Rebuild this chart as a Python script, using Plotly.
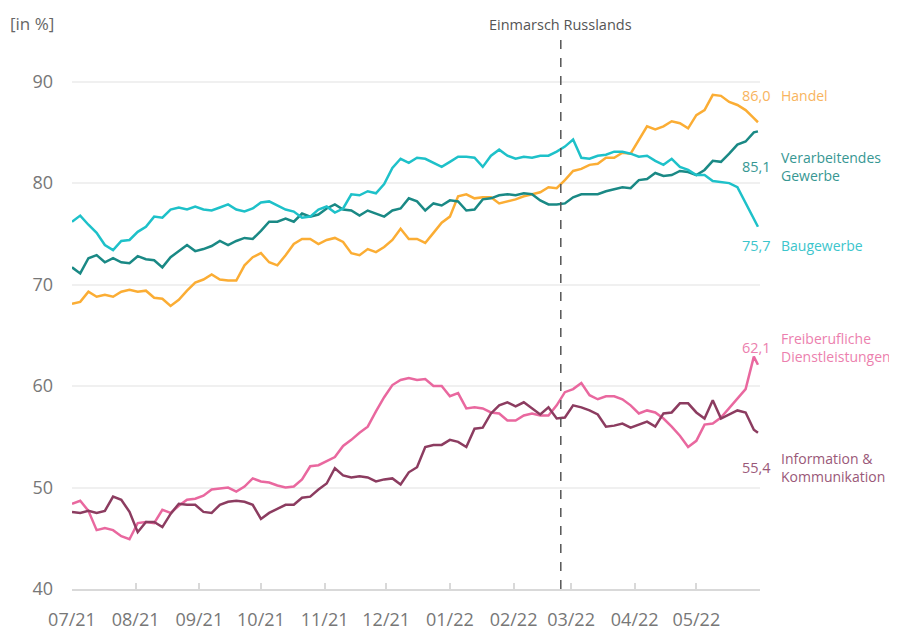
import pandas as pd
import plotly.graph_objects as go

# ---- data (one value every 4 days + final day) ----
dates = list(pd.date_range("2021-07-01", periods=84, freq="4D")) + [pd.Timestamp("2022-05-31")]

handel = [68.1, 68.3, 69.3, 68.8, 69.0, 68.8, 69.3, 69.5, 69.3, 69.4,
          68.7, 68.6, 67.9, 68.5, 69.4, 70.2, 70.5, 71.0, 70.5, 70.4,
          70.4, 71.9, 72.7, 73.1, 72.2, 71.9, 72.9, 74.0, 74.5, 74.5,
          74.0, 74.4, 74.6, 74.2, 73.1, 72.9, 73.5, 73.2, 73.7, 74.4,
          75.5, 74.5, 74.5, 74.1, 75.1, 76.1, 76.7, 78.7, 78.9, 78.5,
          78.6, 78.6, 78.0, 78.2, 78.4, 78.7, 78.9, 79.1, 79.6, 79.5,
          80.3, 81.2, 81.4, 81.8, 81.9, 82.5, 82.5, 83.0, 82.9, 84.3,
          85.6, 85.3, 85.6, 86.1, 85.9, 85.4, 86.7, 87.2, 88.7, 88.6,
          88.0, 87.7, 87.2, 86.4, 86.0]

verarbeitend = [71.7, 71.1, 72.6, 72.9, 72.2, 72.6, 72.2, 72.1, 72.8, 72.5,
                72.4, 71.7, 72.7, 73.3, 73.9, 73.3, 73.5, 73.8, 74.3, 73.9,
                74.3, 74.6, 74.5, 75.3, 76.2, 76.2, 76.5, 76.2, 77.0, 76.7,
                76.9, 77.5, 77.9, 77.4, 77.3, 76.8, 77.3, 77.0, 76.7, 77.3,
                77.5, 78.5, 78.2, 77.3, 78.0, 77.8, 78.3, 78.2, 77.3, 77.4,
                78.4, 78.5, 78.8, 78.9, 78.8, 79.0, 78.9, 78.3, 77.9, 77.9,
                78.0, 78.6, 78.9, 78.9, 78.9, 79.2, 79.4, 79.6, 79.5, 80.3,
                80.4, 81.0, 80.7, 80.8, 81.2, 81.1, 80.8, 81.3, 82.2, 82.1,
                82.9, 83.8, 84.1, 85.0, 85.1]

bau = [76.2, 76.8, 75.9, 75.1, 73.9, 73.4, 74.3, 74.4, 75.2, 75.7,
       76.7, 76.6, 77.4, 77.6, 77.4, 77.7, 77.4, 77.3, 77.6, 77.9,
       77.4, 77.2, 77.5, 78.1, 78.2, 77.8, 77.4, 77.2, 76.6, 76.7,
       77.4, 77.7, 77.1, 77.5, 78.9, 78.8, 79.2, 79.0, 79.9, 81.5,
       82.4, 82.0, 82.5, 82.4, 82.0, 81.6, 82.1, 82.6, 82.6, 82.5,
       81.6, 82.7, 83.3, 82.7, 82.4, 82.6, 82.5, 82.7, 82.7, 83.1,
       83.6, 84.3, 82.5, 82.4, 82.7, 82.8, 83.1, 83.1, 82.9, 82.6,
       82.7, 82.2, 81.8, 82.4, 81.6, 81.3, 80.8, 80.8, 80.2, 80.1,
       80.0, 79.6, 78.1, 76.6, 75.7]

freiberuf = [48.4, 48.7, 47.7, 45.8, 46.0, 45.8, 45.2, 44.9, 46.5, 46.6,
             46.5, 47.8, 47.5, 48.2, 48.8, 48.9, 49.2, 49.8, 49.9, 50.0,
             49.6, 50.1, 50.9, 50.6, 50.5, 50.2, 50.0, 50.1, 50.8, 52.1,
             52.2, 52.6, 53.0, 54.1, 54.7, 55.4, 56.0, 57.5, 58.9, 60.1,
             60.6, 60.8, 60.6, 60.7, 60.0, 60.0, 59.0, 59.3, 57.8, 57.9,
             57.8, 57.4, 57.3, 56.6, 56.6, 57.1, 57.3, 57.1, 57.1, 58.1,
             59.4, 59.7, 60.3, 59.1, 58.7, 59.0, 59.0, 58.7, 58.1, 57.3,
             57.6, 57.4, 56.8, 56.0, 55.1, 54.0, 54.6, 56.2, 56.3, 56.9,
             57.8, 58.7, 59.7, 62.9, 62.1]

info = [47.6, 47.5, 47.7, 47.5, 47.7, 49.1, 48.8, 47.6, 45.6, 46.6,
        46.6, 46.1, 47.4, 48.4, 48.3, 48.3, 47.6, 47.5, 48.3, 48.6,
        48.7, 48.6, 48.3, 46.9, 47.5, 47.9, 48.3, 48.3, 49.0, 49.1,
        49.8, 50.4, 51.9, 51.2, 51.0, 51.1, 51.0, 50.6, 50.8, 50.9,
        50.3, 51.5, 52.0, 54.0, 54.2, 54.2, 54.7, 54.5, 54.0, 55.8,
        55.9, 57.3, 58.1, 58.4, 58.0, 58.4, 57.8, 57.2, 57.9, 56.8,
        56.9, 58.1, 57.9, 57.6, 57.2, 56.0, 56.1, 56.3, 55.9, 56.2,
        56.5, 56.0, 57.3, 57.4, 58.3, 58.3, 57.4, 56.8, 58.6, 56.8,
        57.2, 57.6, 57.4, 55.7, 55.4]

month_ticks = pd.date_range("2021-07-01", "2022-06-01", freq="MS")
month_labels = ["07/21", "08/21", "09/21", "10/21", "11/21", "12/21",
                "01/22", "02/22", "03/22", "04/22", "05/22", ""]

invasion_date = "2022-02-24"
invasion_label = "Einmarsch Russlands"

series = [
    ("Handel", handel, "#FBAD34", "#F8B45E", "86,0", ["Handel"], 88.6),
    ("Verarbeitendes Gewerbe", verarbeitend, "#1A8985", "#379793", "85,1", ["Verarbeitendes", "Gewerbe"], 81.6),
    ("Baugewerbe", bau, "#1EC1C9", "#3CC5CC", "75,7", ["Baugewerbe"], 73.9),
    ("Freiberufliche Dienstleistungen", freiberuf, "#E9689F", "#EC7FAE", "62,1", ["Freiberufliche", "Dienstleistungen"], 63.8),
    ("Information & Kommunikation", info, "#8C3C60", "#9A5878", "55,4", ["Information &", "Kommunikation"], 52.0),
]

FONT = "Open Sans"
fig = go.Figure()
for name, vals, col, tcol, last, lines, ly in series:
    fig.add_trace(go.Scatter(x=dates, y=vals, mode="lines", name=name,
                             line=dict(color=col, width=2.5), hoverinfo="skip"))
    fig.add_annotation(x=1.0185, xref="paper", y=ly, yref="y", text=last,
                       showarrow=False, xanchor="right", yanchor="middle",
                       font=dict(family=FONT, size=14.5, color=tcol))
    fig.add_annotation(x=1.0275, xref="paper", y=ly, yref="y", text="<br>".join(lines),
                       showarrow=False, xanchor="left", yanchor="middle", align="left",
                       font=dict(family=FONT, size=14, color=tcol))

fig.add_shape(type="line", x0=invasion_date, x1=invasion_date, xref="x",
              y0=0, y1=1, yref="paper", line=dict(color="#555555", width=1.5, dash="dash"))
fig.add_annotation(x=invasion_date, xref="x", y=1, yref="paper", yshift=0,
                   text=invasion_label, showarrow=False, xanchor="center", yanchor="bottom",
                   font=dict(family=FONT, size=14.5, color="#555555"))
fig.add_annotation(x=-0.093, xref="paper", y=1, yref="paper", yshift=-1,
                   text="[in %]", showarrow=False, xanchor="left", yanchor="bottom",
                   font=dict(family=FONT, size=17, color="#666666"))

fig.update_layout(
    width=889, height=622,
    margin=dict(l=64, r=137, t=28, b=41, autoexpand=False),
    paper_bgcolor="white", plot_bgcolor="white",
    showlegend=False,
    font=dict(family=FONT, color="#777777"),
    xaxis=dict(
        range=["2021-07-01", "2022-06-01"],
        tickvals=month_ticks, ticktext=month_labels,
        showgrid=False, zeroline=False, automargin=False,
        showline=True, linecolor="#D9D9D9", linewidth=2,
        ticks="inside", ticklen=6, tickcolor="#D9D9D9", tickwidth=2,
        tickfont=dict(family=FONT, size=18, color="#777777"),
        ticklabelstandoff=13,
    ),
    yaxis=dict(
        range=[40, 94.5], tickvals=[40, 50, 60, 70, 80, 90],
        showgrid=True, gridcolor="#F0F0F0", gridwidth=2,
        zeroline=False, showline=False, ticks="", automargin=False,
        tickfont=dict(family=FONT, size=18, color="#777777"),
        ticklabelstandoff=18,
    ),
)

fig.write_html("out.html")
